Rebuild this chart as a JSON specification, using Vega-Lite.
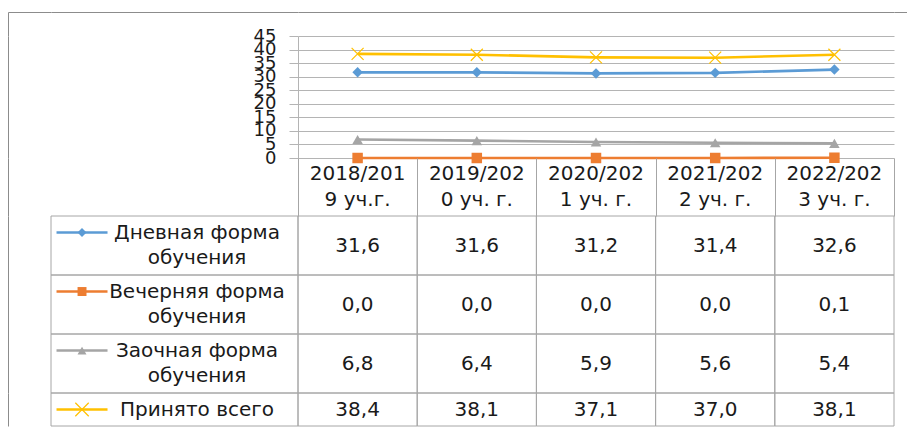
{
  "$schema": "https://vega.github.io/schema/vega-lite/v6.json",
  "usermeta": {"embedOptions": {"actions": false}},
  "padding": {"left": 8, "top": 12, "right": 0, "bottom": 0},
  "background": "white",
  "spacing": 0,
  "bounds": "flush",
  "columns": 4,
  "resolve": {"scale": {"x": "independent", "y": "independent", "color": "independent", "shape": "independent"}},
  "config": {
    "view": {"stroke": null},
    "font": "DejaVu Sans",
    "locale": {"number": {"decimal": ",", "thousands": " ", "grouping": [3], "currency": ["", ""]}}
  },
  "datasets": {
    "vals": [
      {"year": "2018/2019", "series": "Дневная форма обучения", "value": 31.6},
      {"year": "2019/2020", "series": "Дневная форма обучения", "value": 31.6},
      {"year": "2020/2021", "series": "Дневная форма обучения", "value": 31.2},
      {"year": "2021/2022", "series": "Дневная форма обучения", "value": 31.4},
      {"year": "2022/2023", "series": "Дневная форма обучения", "value": 32.6},
      {"year": "2018/2019", "series": "Вечерняя форма обучения", "value": 0.0},
      {"year": "2019/2020", "series": "Вечерняя форма обучения", "value": 0.0},
      {"year": "2020/2021", "series": "Вечерняя форма обучения", "value": 0.0},
      {"year": "2021/2022", "series": "Вечерняя форма обучения", "value": 0.0},
      {"year": "2022/2023", "series": "Вечерняя форма обучения", "value": 0.1},
      {"year": "2018/2019", "series": "Заочная форма обучения", "value": 6.8},
      {"year": "2019/2020", "series": "Заочная форма обучения", "value": 6.4},
      {"year": "2020/2021", "series": "Заочная форма обучения", "value": 5.9},
      {"year": "2021/2022", "series": "Заочная форма обучения", "value": 5.6},
      {"year": "2022/2023", "series": "Заочная форма обучения", "value": 5.4},
      {"year": "2018/2019", "series": "Принято всего", "value": 38.4},
      {"year": "2019/2020", "series": "Принято всего", "value": 38.1},
      {"year": "2020/2021", "series": "Принято всего", "value": 37.1},
      {"year": "2021/2022", "series": "Принято всего", "value": 37.0},
      {"year": "2022/2023", "series": "Принято всего", "value": 38.1}
    ],
    "years": [
      {"year": "2018/2019", "head": "2018/201\n9 уч.г."},
      {"year": "2019/2020", "head": "2019/202\n0 уч. г."},
      {"year": "2020/2021", "head": "2020/202\n1 уч. г."},
      {"year": "2021/2022", "head": "2021/202\n2 уч. г."},
      {"year": "2022/2023", "head": "2022/202\n3 уч. г."}
    ],
    "series": [
      {"series": "Дневная форма обучения", "label": "Дневная форма\nобучения"},
      {"series": "Вечерняя форма обучения", "label": "Вечерняя форма\nобучения"},
      {"series": "Заочная форма обучения", "label": "Заочная форма\nобучения"},
      {"series": "Принято всего", "label": "Принято всего"}
    ]
  },
  "concat": [
    {
      "width": 43, "height": 24,
      "data": {"values": []},
      "mark": {"type": "point", "opacity": 0},
      "encoding": {
        "x": {"field": "b", "type": "quantitative", "scale": {"domain": [0, 1]}, "axis": {"orient": "top", "domain": true, "domainColor": "#8c8c8c", "ticks": false, "labels": false, "grid": false, "title": null}},
        "y": {"field": "b", "type": "quantitative", "scale": {"domain": [0, 1]}, "axis": {"orient": "left", "domain": true, "domainColor": "#8c8c8c", "ticks": false, "labels": false, "grid": false, "title": null}}
      }
    },
    {
      "width": 247, "height": 24,
      "data": {"values": []},
      "mark": {"type": "point", "opacity": 0},
      "encoding": {
        "x": {"field": "b", "type": "quantitative", "scale": {"domain": [0, 1]}, "axis": {"orient": "top", "domain": true, "domainColor": "#8c8c8c", "ticks": false, "labels": false, "grid": false, "title": null}}
      }
    },
    {
      "width": 596, "height": 24,
      "data": {"values": []},
      "mark": {"type": "point", "opacity": 0},
      "encoding": {
        "x": {"field": "b", "type": "quantitative", "scale": {"domain": [0, 1]}, "axis": {"orient": "top", "domain": true, "domainColor": "#8c8c8c", "ticks": false, "labels": false, "grid": false, "title": null}}
      }
    },
    {
      "width": 13, "height": 24,
      "data": {"values": []},
      "mark": {"type": "point", "opacity": 0},
      "encoding": {
        "x": {"field": "b", "type": "quantitative", "scale": {"domain": [0, 1]}, "axis": {"orient": "top", "domain": true, "domainColor": "#8c8c8c", "ticks": false, "labels": false, "grid": false, "title": null}}
      }
    },
    {
      "width": 43, "height": 122,
      "data": {"values": []},
      "mark": {"type": "point", "opacity": 0},
      "encoding": {
        "y": {"field": "b", "type": "quantitative", "scale": {"domain": [0, 1]}, "axis": {"orient": "left", "domain": true, "domainColor": "#8c8c8c", "ticks": false, "labels": false, "grid": false, "title": null}}
      }
    },
    {
      "width": 247, "height": 122,
      "data": {"values": []},
      "mark": {"type": "point", "opacity": 0},
      "encoding": {}
    },
    {
      "width": 596, "height": 122,
      "data": {"name": "vals"},
      "encoding": {
        "x": {"field": "year", "type": "nominal", "scale": {"type": "point", "padding": 0.5, "domain": ["2018/2019", "2019/2020", "2020/2021", "2021/2022", "2022/2023"]}, "axis": null},
        "y": {"field": "value", "type": "quantitative", "scale": {"domain": [0, 45], "nice": false}, "axis": {"values": [0, 5, 10, 15, 20, 25, 30, 35, 40, 45], "grid": true, "gridColor": "#b4b4b4", "domain": true, "domainColor": "#b4b4b4", "ticks": true, "tickSize": 9, "tickColor": "#b4b4b4", "labelFont": "DejaVu Sans", "labelFontSize": 18, "labelColor": "#1a1a1a", "labelPadding": 13, "labelOverlap": false, "labelFlush": false, "title": null}},
        "color": {"field": "series", "type": "nominal", "scale": {"domain": ["Дневная форма обучения", "Вечерняя форма обучения", "Заочная форма обучения", "Принято всего"], "range": ["#5B9BD5", "#ED7D31", "#A5A5A5", "#FFC000"]}, "legend": null}
      },
      "layer": [
        {"mark": {"type": "line", "strokeWidth": 2.6}},
        {
          "transform": [{"filter": "datum.series !== 'Принято всего'"}],
          "mark": {"type": "point", "filled": true, "opacity": 1, "size": 110},
          "encoding": {"shape": {"field": "series", "type": "nominal", "scale": {"domain": ["Дневная форма обучения", "Вечерняя форма обучения", "Заочная форма обучения"], "range": ["diamond", "square", "triangle-up"]}, "legend": null}}
        },
        {
          "transform": [{"filter": "datum.series === 'Принято всего'"}],
          "mark": {"type": "point", "filled": false, "opacity": 1, "size": 144, "strokeWidth": 1.2, "shape": "M-1,-1L1,1M-1,1L1,-1"}
        }
      ]
    },
    {
      "width": 13, "height": 122,
      "data": {"values": []},
      "mark": {"type": "point", "opacity": 0},
      "encoding": {}
    },
    {
      "width": 43, "height": 58,
      "data": {"values": []},
      "mark": {"type": "point", "opacity": 0},
      "encoding": {
        "y": {"field": "b", "type": "quantitative", "scale": {"domain": [0, 1]}, "axis": {"orient": "left", "domain": true, "domainColor": "#8c8c8c", "ticks": false, "labels": false, "grid": false, "title": null}}
      }
    },
    {
      "width": 247, "height": 58,
      "data": {"values": []},
      "mark": {"type": "point", "opacity": 0},
      "encoding": {}
    },
    {
      "width": 596, "height": 58,
      "data": {"name": "years"},
      "mark": {"type": "text", "lineBreak": "\n", "lineHeight": 26, "fontSize": 20, "color": "#1a1a1a", "baseline": "middle", "dy": -13},
      "encoding": {
        "x": {"field": "year", "type": "nominal", "scale": {"type": "band", "paddingInner": 0, "paddingOuter": 0, "domain": ["2018/2019", "2019/2020", "2020/2021", "2021/2022", "2022/2023"]}, "axis": {"orient": "top", "grid": true, "tickBand": "extent", "gridColor": "#a6a6a6", "domain": false, "ticks": false, "labels": false, "title": null}},
        "text": {"field": "head"}
      }
    },
    {
      "width": 13, "height": 58,
      "data": {"values": []},
      "mark": {"type": "point", "opacity": 0},
      "encoding": {}
    },
    {
      "width": 43, "height": 177,
      "data": {"values": []},
      "mark": {"type": "point", "opacity": 0},
      "encoding": {
        "y": {"field": "b", "type": "quantitative", "scale": {"domain": [0, 1]}, "axis": {"orient": "left", "domain": true, "domainColor": "#8c8c8c", "ticks": false, "labels": false, "grid": false, "title": null}}
      }
    },
    {
      "width": 247, "height": 177,
      "data": {"name": "series"},
      "transform": [{"filter": "datum.series !== 'Принято всего'"}],
      "layer": [
        {
          "mark": {"type": "rect", "filled": false, "stroke": "#a6a6a6", "strokeWidth": 1},
          "encoding": {"y": {"field": "series", "type": "nominal", "scale": {"type": "band", "paddingInner": 0, "paddingOuter": 0, "domain": ["Дневная форма обучения", "Вечерняя форма обучения", "Заочная форма обучения"]}, "axis": null}}
        },
        {
          "mark": {"type": "tick", "orient": "horizontal", "size": 51, "thickness": 2.5, "opacity": 1},
          "encoding": {
            "x": {"datum": "key", "type": "nominal", "scale": {"type": "point", "domain": ["key", "name"], "padding": 0.574, "align": 0.235}, "axis": null},
            "y": {"field": "series", "type": "nominal", "bandPosition": 0.28, "axis": null},
            "color": {"field": "series", "type": "nominal", "scale": {"domain": ["Дневная форма обучения", "Вечерняя форма обучения", "Заочная форма обучения", "Принято всего"], "range": ["#5B9BD5", "#ED7D31", "#A5A5A5", "#FFC000"]}, "legend": null}
          }
        },
        {
          "mark": {"type": "point", "filled": true, "opacity": 1, "size": 80},
          "encoding": {
            "x": {"datum": "key", "type": "nominal", "axis": null},
            "y": {"field": "series", "type": "nominal", "bandPosition": 0.28, "axis": null},
            "color": {"field": "series", "type": "nominal", "legend": null},
            "shape": {"field": "series", "type": "nominal", "scale": {"domain": ["Дневная форма обучения", "Вечерняя форма обучения", "Заочная форма обучения"], "range": ["diamond", "square", "triangle-up"]}, "legend": null}
          }
        },
        {
          "mark": {"type": "text", "lineBreak": "\n", "lineHeight": 25, "fontSize": 20, "color": "#1a1a1a", "baseline": "middle", "dy": -12.5},
          "encoding": {
            "x": {"datum": "name", "type": "nominal", "axis": null},
            "y": {"field": "series", "type": "nominal", "axis": null},
            "text": {"field": "label"}
          }
        }
      ]
    },
    {
      "width": 596, "height": 177,
      "data": {"name": "vals"},
      "transform": [{"filter": "datum.series !== 'Принято всего'"}],
      "encoding": {
        "x": {"field": "year", "type": "nominal", "scale": {"type": "band", "paddingInner": 0, "paddingOuter": 0, "domain": ["2018/2019", "2019/2020", "2020/2021", "2021/2022", "2022/2023"]}, "axis": null},
        "y": {"field": "series", "type": "nominal", "scale": {"type": "band", "paddingInner": 0, "paddingOuter": 0, "domain": ["Дневная форма обучения", "Вечерняя форма обучения", "Заочная форма обучения"]}, "axis": null}
      },
      "layer": [
        {"mark": {"type": "rect", "filled": false, "stroke": "#a6a6a6", "strokeWidth": 1}},
        {"mark": {"type": "text", "fontSize": 20, "color": "#1a1a1a", "baseline": "middle"}, "encoding": {"text": {"field": "value", "type": "quantitative", "format": ".1f"}}}
      ]
    },
    {
      "width": 13, "height": 177,
      "data": {"values": []},
      "mark": {"type": "point", "opacity": 0},
      "encoding": {}
    },
    {
      "width": 43, "height": 33,
      "data": {"values": []},
      "mark": {"type": "point", "opacity": 0},
      "encoding": {
        "y": {"field": "b", "type": "quantitative", "scale": {"domain": [0, 1]}, "axis": {"orient": "left", "domain": true, "domainColor": "#8c8c8c", "ticks": false, "labels": false, "grid": false, "title": null}}
      }
    },
    {
      "width": 247, "height": 33,
      "data": {"name": "series"},
      "transform": [{"filter": "datum.series === 'Принято всего'"}],
      "layer": [
        {
          "mark": {"type": "rect", "filled": false, "stroke": "#a6a6a6", "strokeWidth": 1},
          "encoding": {"y": {"field": "series", "type": "nominal", "scale": {"type": "band", "paddingInner": 0, "paddingOuter": 0, "domain": ["Принято всего"]}, "axis": null}}
        },
        {
          "mark": {"type": "tick", "orient": "horizontal", "size": 51, "thickness": 2.5, "opacity": 1},
          "encoding": {
            "x": {"datum": "key", "type": "nominal", "scale": {"type": "point", "domain": ["key", "name"], "padding": 0.574, "align": 0.235}, "axis": null},
            "y": {"field": "series", "type": "nominal", "axis": null},
            "color": {"field": "series", "type": "nominal", "scale": {"domain": ["Дневная форма обучения", "Вечерняя форма обучения", "Заочная форма обучения", "Принято всего"], "range": ["#5B9BD5", "#ED7D31", "#A5A5A5", "#FFC000"]}, "legend": null}
          }
        },
        {
          "mark": {"type": "point", "filled": false, "opacity": 1, "size": 180, "strokeWidth": 1.2, "shape": "M-1,-1L1,1M-1,1L1,-1"},
          "encoding": {
            "x": {"datum": "key", "type": "nominal", "axis": null},
            "y": {"field": "series", "type": "nominal", "axis": null},
            "color": {"field": "series", "type": "nominal", "legend": null}
          }
        },
        {
          "mark": {"type": "text", "fontSize": 20, "color": "#1a1a1a", "baseline": "middle"},
          "encoding": {
            "x": {"datum": "name", "type": "nominal", "axis": null},
            "y": {"field": "series", "type": "nominal", "axis": null},
            "text": {"field": "label"}
          }
        }
      ]
    },
    {
      "width": 596, "height": 33,
      "data": {"name": "vals"},
      "transform": [{"filter": "datum.series === 'Принято всего'"}],
      "encoding": {
        "x": {"field": "year", "type": "nominal", "scale": {"type": "band", "paddingInner": 0, "paddingOuter": 0, "domain": ["2018/2019", "2019/2020", "2020/2021", "2021/2022", "2022/2023"]}, "axis": null},
        "y": {"field": "series", "type": "nominal", "scale": {"type": "band", "paddingInner": 0, "paddingOuter": 0, "domain": ["Принято всего"]}, "axis": null}
      },
      "layer": [
        {"mark": {"type": "rect", "filled": false, "stroke": "#a6a6a6", "strokeWidth": 1}},
        {"mark": {"type": "text", "fontSize": 20, "color": "#1a1a1a", "baseline": "middle"}, "encoding": {"text": {"field": "value", "type": "quantitative", "format": ".1f"}}}
      ]
    },
    {
      "width": 13, "height": 33,
      "data": {"values": []},
      "mark": {"type": "point", "opacity": 0},
      "encoding": {}
    }
  ]
}
